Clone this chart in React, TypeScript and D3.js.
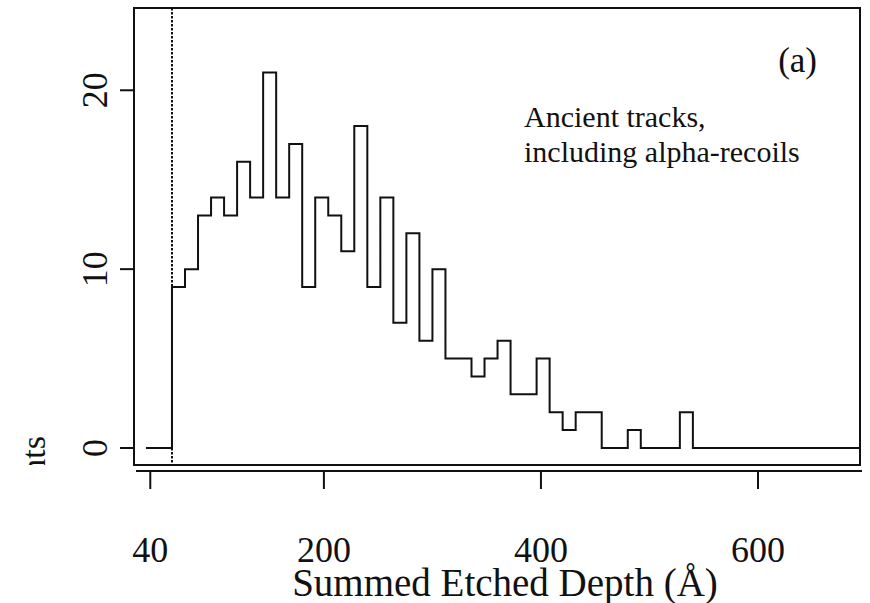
import React from "react";
import * as d3 from "d3";

// Histogram of summed etched depth (Å), bin width 12, first bin edge at 36
const binStart = 36;
const binWidth = 12;
const counts = [
  0, 0, 9, 10, 13, 14, 13, 16, 14, 21, 14, 17, 9, 14, 13, 11, 18, 9, 14, 7, 12, 6,
  10, 5, 5, 4, 5, 6, 3, 3, 5, 2, 1, 2, 2, 0, 0, 1, 0, 0, 0, 2, 0, 0, 0, 0, 0, 0,
  0, 0, 0, 0, 0, 0, 0,
];
const xTicks = [40, 200, 400, 600];
const yTicks = [0, 10, 20];
const cutoff = 60;
const xDomain = [25, 694];
const yDomain = [-0.95, 24.6];

const W = 870;
const H = 603;
const left = 134;
const right = 860;
const top = 8;
const bottom = 465;
const font = "'Liberation Serif', 'Times New Roman', serif";

export default function App() {
  const x = d3.scaleLinear().domain(xDomain).range([left, right]);
  const y = d3.scaleLinear().domain(yDomain).range([bottom, top]);

  const edges = counts.map((_, i) => binStart + i * binWidth);
  const pts: [number, number][] = counts.map((c, i) => [edges[i], c]);
  pts.push([binStart + counts.length * binWidth, counts[counts.length - 1]]);
  const line = d3
    .line<[number, number]>()
    .x((d) => x(d[0]))
    .y((d) => y(d[1]))
    .curve(d3.curveStepAfter);

  const axisY = 471;

  return (
    <svg
      width={W}
      height={H}
      style={{ position: "absolute", left: 0, top: 0, background: "#fff" }}
    >
      <defs>
        <clipPath id="plotClip">
          <rect x={left} y={top} width={right - left} height={bottom - top} />
        </clipPath>
        <clipPath id="labClip">
          <rect x={0} y={0} width={120} height={465} />
        </clipPath>
      </defs>
      <rect x={0} y={0} width={W} height={H} fill="#fff" />

      {/* step histogram */}
      <path
        d={line(pts) || ""}
        fill="none"
        stroke="#111"
        strokeWidth={2}
        clipPath="url(#plotClip)"
      />

      {/* dotted cutoff line */}
      <line
        x1={x(cutoff)}
        x2={x(cutoff)}
        y1={top}
        y2={bottom}
        stroke="#111"
        strokeWidth={2}
        strokeDasharray="2.5,1.5"
      />

      {/* box */}
      <rect
        x={left}
        y={top}
        width={right - left}
        height={bottom - top}
        fill="none"
        stroke="#111"
        strokeWidth={2}
      />

      {/* x axis */}
      <line x1={left + 2} x2={right + 2} y1={axisY} y2={axisY} stroke="#111" strokeWidth={2} />
      {xTicks.map((t) => (
        <g key={t}>
          <line x1={x(t)} x2={x(t)} y1={axisY} y2={axisY + 18} stroke="#111" strokeWidth={2} />
          <text
            x={x(t)}
            y={562}
            textAnchor="middle"
            fontFamily={font}
            fontSize={36}
            fill="#111"
          >
            {t}
          </text>
        </g>
      ))}

      {/* y axis */}
      {yTicks.map((t) => (
        <g key={t}>
          <line x1={left - 14} x2={left} y1={y(t)} y2={y(t)} stroke="#111" strokeWidth={2} />
          <text
            transform={`translate(${107},${y(t)}) rotate(-90)`}
            textAnchor="middle"
            fontFamily={font}
            fontSize={36}
            fill="#111"
          >
            {t}
          </text>
        </g>
      ))}

      {/* y label (cut off in the original) */}
      <g clipPath="url(#labClip)">
        <text
          transform={`translate(${45},${436}) rotate(-90)`}
          textAnchor="end"
          fontFamily={font}
          fontSize={34}
          fill="#111"
        >
          Counts
        </text>
      </g>

      {/* x label */}
      <text
        x={(292 + 718) / 2}
        y={596}
        textAnchor="middle"
        fontFamily={font}
        fontSize={39}
        fill="#111"
      >
        Summed Etched Depth (Å)
      </text>

      {/* annotations */}
      <text x={817} y={72} textAnchor="end" fontFamily={font} fontSize={35} fill="#111">
        (a)
      </text>
      <text x={524} y={127} fontFamily={font} fontSize={30} fill="#111">
        Ancient tracks,
      </text>
      <text x={524} y={162} fontFamily={font} fontSize={30} fill="#111">
        including alpha-recoils
      </text>
    </svg>
  );
}
